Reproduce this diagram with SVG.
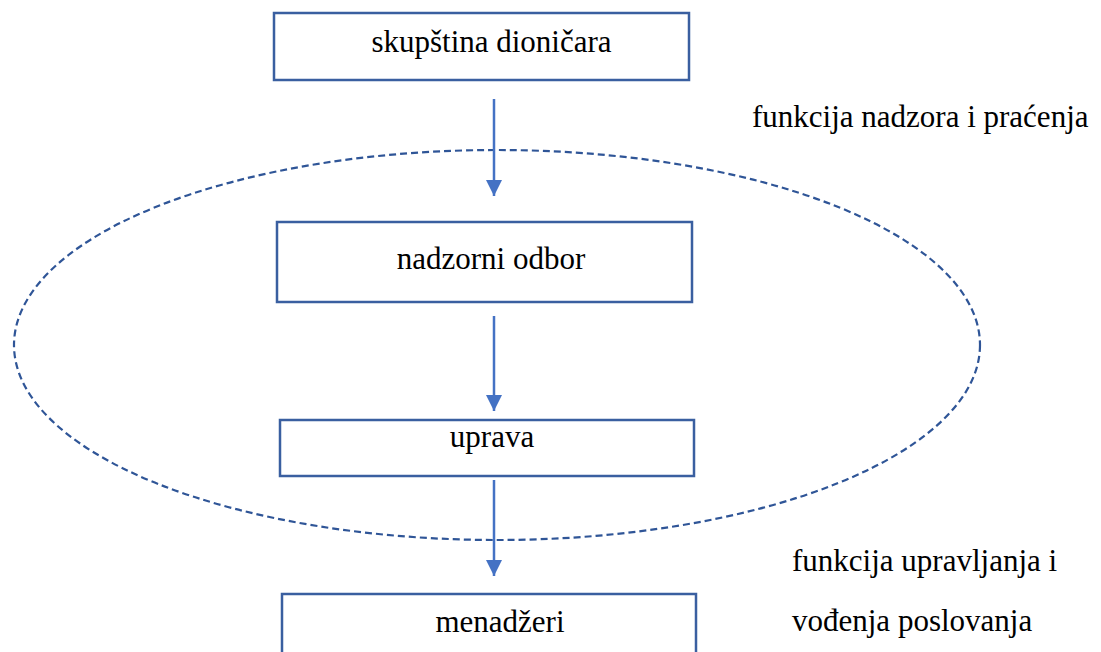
<svg xmlns="http://www.w3.org/2000/svg" width="1101" height="652" viewBox="0 0 1101 652">
<defs>
<style>
.box{fill:#fff;stroke:#3A5FA0;stroke-width:2.5}
.t{font-family:"Liberation Serif","Times New Roman",serif;font-size:31px;fill:#000}
.c{text-anchor:middle}
.conn{stroke:#4472C4;stroke-width:2.5;fill:none}
.ell{fill:none;stroke:#2F5597;stroke-width:2.2;stroke-dasharray:7,4}
</style>
<marker id="ah" viewBox="0 0 16 16" markerWidth="16" markerHeight="16" refX="16" refY="8" orient="auto" markerUnits="userSpaceOnUse">
<path d="M0,0 L16,8 L0,16 Z" fill="#4472C4"/>
</marker>
</defs>
<rect width="1101" height="652" fill="#fff"/>
<ellipse class="ell" cx="497" cy="345" rx="483" ry="195"/>
<g id="n1"><rect class="box" x="274" y="13" width="415" height="67"/><text class="t c" x="491.5" y="52">skupština dioničara</text></g>
<g id="n2"><rect class="box" x="277" y="222" width="415" height="80"/><text class="t c" x="491" y="269">nadzorni odbor</text></g>
<g id="n3"><rect class="box" x="280" y="420" width="414" height="56"/><text class="t c" x="492" y="447">uprava</text></g>
<g id="n4"><rect class="box" x="282" y="594" width="414" height="70"/><text class="t c" x="500" y="632">menadžeri</text></g>
<g id="connectors">
<line class="conn" x1="494" y1="99" x2="494" y2="196" marker-end="url(#ah)"/>
<line class="conn" x1="494" y1="316" x2="494" y2="411" marker-end="url(#ah)"/>
<line class="conn" x1="494" y1="480" x2="494" y2="576" marker-end="url(#ah)"/>
</g>
<g id="labels">
<text class="t" x="752" y="127">funkcija nadzora i praćenja</text>
<text class="t" x="792" y="571">funkcija upravljanja i</text>
<text class="t" x="792" y="631">vođenja poslovanja</text>
</g>
</svg>
